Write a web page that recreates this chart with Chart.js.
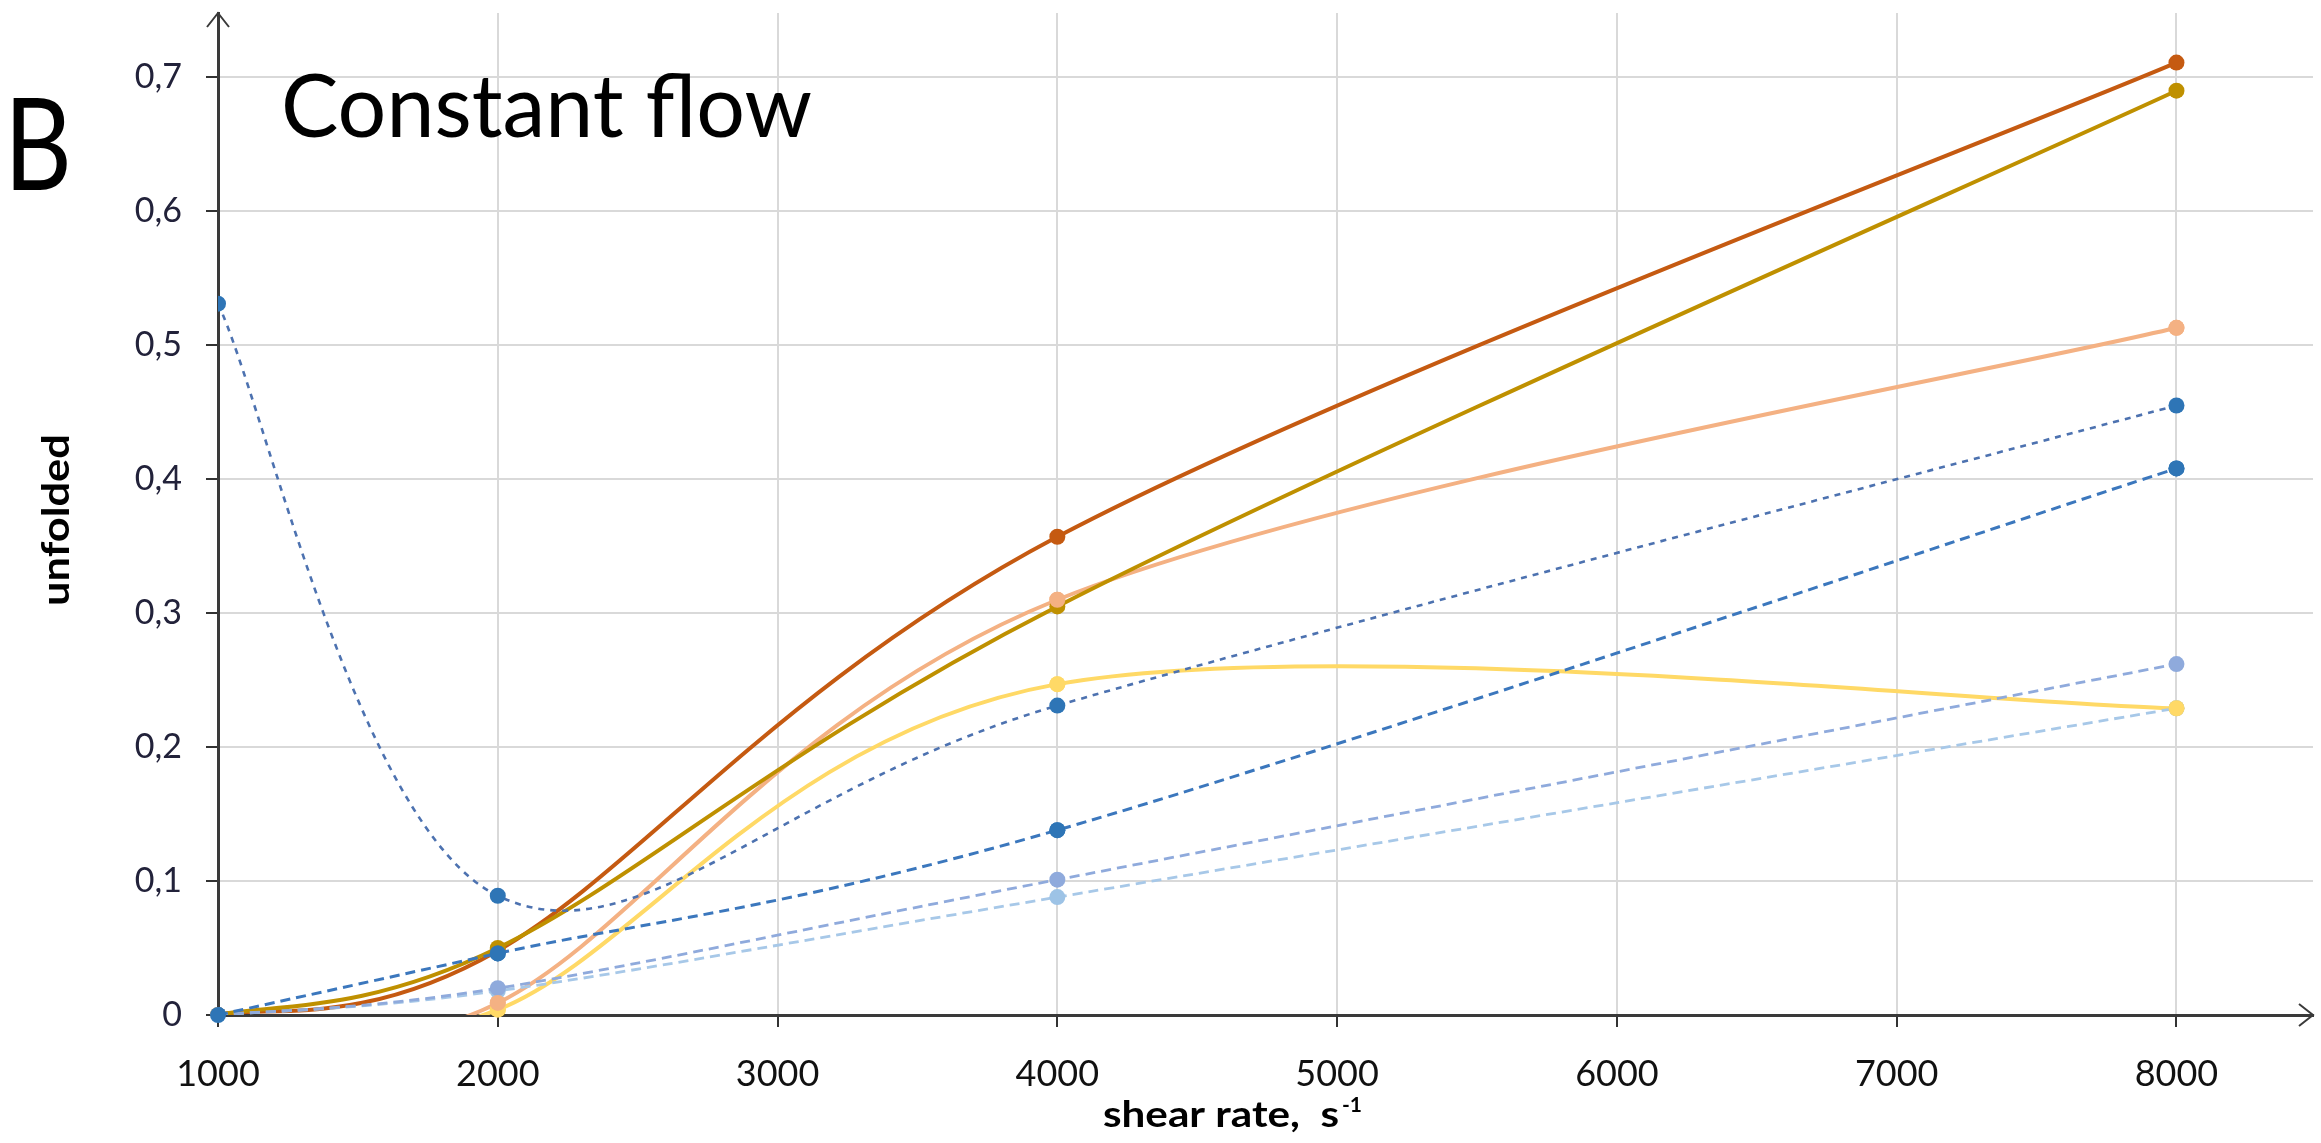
<!DOCTYPE html>
<html>
<head>
<meta charset="utf-8">
<script src="https://cdn.jsdelivr.net/npm/chart.js@4.4.1/dist/chart.umd.min.js"></script>
<style>
html,body{margin:0;padding:0;background:#ffffff;}
#wrap{position:relative;width:2321px;height:1143px;}
</style>
</head>
<body>
<div id="wrap"><canvas id="c"></canvas></div>
<script>
// ---------- data ----------
const shearRates = [1000, 2000, 4000, 8000];
const xTickValues = [1000, 2000, 3000, 4000, 5000, 6000, 7000, 8000];
const yTickValues = [0, 0.1, 0.2, 0.3, 0.4, 0.5, 0.6, 0.7];

const seriesDarkOrange = [0, 0.048, 0.357, 0.711];
const seriesGold       = [0, 0.050, 0.305, 0.690];
const seriesSalmon     = [0, 0.009, 0.310, 0.513];
const seriesYellow     = [0, 0.004, 0.247, 0.229];
const seriesBlueA      = [0.531, 0.089, 0.231, 0.455];
const seriesBlueB      = [0, 0.046, 0.138, 0.408];
const seriesLightBlueC = [0, 0.020, 0.101, 0.262];
const seriesLightBlueD = [0, 0.018, 0.088, 0.229];

const panelLetter = 'B';
const panelTitle = 'Constant flow';
const yAxisTitle = 'unfolded';
const xAxisTitle = 'shear rate,  s';
const xAxisTitleSup = '-1';

// ---------- helpers ----------
const toPoints = vals => shearRates.map((x, i) => ({x: x, y: vals[i]}));

function lineSet(label, vals, color, markerColor, width, dash, extra) {
  return Object.assign({
    label: label,
    data: toPoints(vals),
    borderColor: color,
    backgroundColor: markerColor,
    pointBackgroundColor: markerColor,
    pointBorderColor: markerColor,
    pointBorderWidth: 0,
    pointRadius: 8,
    borderWidth: width,
    borderDash: dash,
    tension: 0.3,
    fill: false
  }, extra || {});
}

// Excel-style smoothing: control points = neighbours' difference / 6
const excelSpline = {
  id: 'excelSpline',
  beforeDatasetDraw(chart, args) {
    const meta = args.meta;
    const line = meta.dataset;
    if (!line) return;
    line.updateControlPoints(chart.chartArea, meta.indexAxis);
    const pts = meta.data;
    const n = pts.length;
    for (let i = 0; i < n; i++) {
      const p = pts[i];
      const prev = pts[Math.max(i - 1, 0)];
      const next = pts[Math.min(i + 1, n - 1)];
      const dx = (next.x - prev.x) / 6;
      const dy = (next.y - prev.y) / 6;
      p.cp1x = p.x - dx; p.cp1y = p.y - dy;
      p.cp2x = p.x + dx; p.cp2y = p.y + dy;
    }
  }
};

// redraw markers of datasets whose line is clipped at the axis
const markerRedraw = {
  id: 'markerRedraw',
  afterDatasetsDraw(chart) {
    const ctx = chart.ctx;
    const a = chart.chartArea;
    for (let i = chart.data.datasets.length - 1; i >= 0; i--) {
      const ds = chart.data.datasets[i];
      if (!ds.redrawMarkers) continue;
      const meta = chart.getDatasetMeta(i);
      meta.data.forEach(p => {
        if (ds.redrawMarkers === 'all' || p.x > a.left + 20) p.draw(ctx);
      });
    }
  }
};

function drawFitted(ctx, text, font, x, y, width, color) {
  ctx.save();
  ctx.font = font;
  ctx.fillStyle = color;
  ctx.textBaseline = 'alphabetic';
  ctx.textAlign = 'left';
  const w = ctx.measureText(text).width;
  ctx.translate(x, y);
  if (width) ctx.scale(width / w, 1);
  ctx.fillText(text, 0, 0);
  ctx.restore();
  return width || w;
}

const decorations = {
  id: 'decorations',
  afterDraw(chart) {
    const ctx = chart.ctx;
    const a = chart.chartArea;
    // arrow heads
    ctx.save();
    ctx.strokeStyle = '#3a3a3a';
    ctx.lineWidth = 2;
    ctx.beginPath();
    ctx.moveTo(a.right - 14, a.bottom - 11);
    ctx.lineTo(a.right, a.bottom);
    ctx.lineTo(a.right - 14, a.bottom + 11);
    ctx.moveTo(a.left - 11, a.top + 14);
    ctx.lineTo(a.left, a.top);
    ctx.lineTo(a.left + 11, a.top + 14);
    ctx.stroke();
    ctx.restore();
    // panel letter and title
    drawFitted(ctx, panelLetter, '400 128px Lato', 4, 190, 68, '#000');
    drawFitted(ctx, panelTitle, '400 88px Lato', 281, 137, 531, '#000');
    // y axis title (rotated)
    ctx.save();
    ctx.translate(69, 520);
    ctx.rotate(-Math.PI / 2);
    drawFitted(ctx, yAxisTitle, '700 38px Lato', -86, 0, 172, '#000');
    ctx.restore();
    // x axis title with superscript
    const w = drawFitted(ctx, xAxisTitle, '700 36px Lato', 1103, 1127, 236, '#000');
    drawFitted(ctx, xAxisTitleSup, '700 21px Lato', 1103 + w + 3, 1112, null, '#000');
  }
};

function build() {
  const ctx = document.getElementById('c').getContext('2d');
  const lowClip = {left: 12, right: 12, top: 12, bottom: 0};
  new Chart(ctx, {
    type: 'line',
    data: {
      datasets: [
        lineSet('s6', seriesBlueB, '#3b77bd', '#2e75b6', 3, [10, 6], {redrawMarkers: 'all'}),
        lineSet('s5', seriesBlueA, '#4d72b0', '#2e75b6', 2.6, [6, 6]),
        lineSet('s7', seriesLightBlueC, '#8faadc', '#8faadc', 2.8, [10, 6]),
        lineSet('s8', seriesLightBlueD, '#a7c8e8', '#9dc3e6', 2.8, [10, 6]),
        lineSet('s2', seriesGold, '#bf9000', '#bf9000', 4, []),
        lineSet('s1', seriesDarkOrange, '#c55a11', '#c55a11', 4, []),
        lineSet('s3', seriesSalmon, '#f4b183', '#f4b183', 4, [], {clip: lowClip, redrawMarkers: true}),
        lineSet('s4', seriesYellow, '#ffd966', '#ffd966', 4, [], {clip: lowClip, redrawMarkers: true})
      ]
    },
    options: {
      responsive: true,
      maintainAspectRatio: false,
      animation: false,
      events: [],
      layout: {padding: {top: 13, right: 1, left: 0, bottom: 0}},
      plugins: {legend: {display: false}, tooltip: {enabled: false}, title: {display: false}},
      scales: {
        x: {
          type: 'linear',
          min: 1000,
          max: 8488,
          afterBuildTicks: s => { s.ticks = xTickValues.map(v => ({value: v})); },
          afterFit: s => { s.height = 128; s.paddingLeft = 0; s.paddingRight = 0; },
          grid: {color: '#d9d9d9', lineWidth: 2, drawTicks: true, tickLength: 12, tickColor: '#333333', tickWidth: 2},
          border: {display: true, color: '#3a3a3a', width: 3},
          ticks: {
            padding: 26,
            color: '#111111',
            font: {family: 'Lato', size: 36},
            maxRotation: 0,
            callback: v => String(v)
          },
          title: {display: false}
        },
        y: {
          type: 'linear',
          min: 0,
          max: 0.748,
          afterBuildTicks: s => { s.ticks = yTickValues.map(v => ({value: v})); },
          afterFit: s => { s.width = 218; s.paddingTop = 0; s.paddingBottom = 0; },
          grid: {color: '#d9d9d9', lineWidth: 2, drawTicks: true, tickLength: 12, tickColor: '#333333', tickWidth: 2},
          border: {display: true, color: '#3a3a3a', width: 3},
          ticks: {
            padding: 24,
            color: '#22223a',
            font: {family: 'Lato', size: 34},
            callback: v => (v === 0 ? '0' : v.toFixed(1).replace('.', ','))
          },
          title: {display: false}
        }
      }
    },
    plugins: [excelSpline, markerRedraw, decorations]
  });
}

if (document.fonts && document.fonts.load) {
  Promise.all([
    document.fonts.load('34px Lato'),
    document.fonts.load('bold 34px Lato')
  ]).then(build, build);
} else {
  build();
}
</script>
</body>
</html>
